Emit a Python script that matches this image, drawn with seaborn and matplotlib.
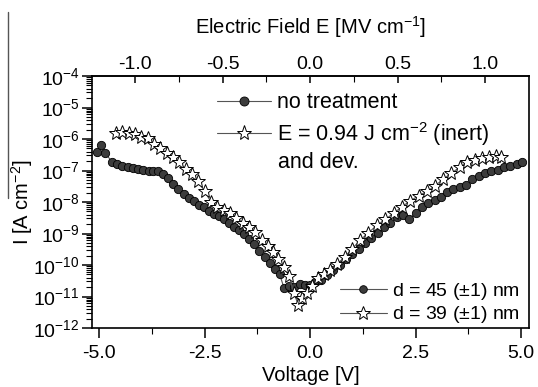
import matplotlib
matplotlib.use('Agg')
import matplotlib.pyplot as plt
import matplotlib.ticker as mticker
from matplotlib.lines import Line2D
import pandas as pd
import seaborn as sns

# no treatment, d = 45 nm  (voltage [V], current density [A cm^-2])
v_circ = [-5.05, -4.95, -4.85, -4.70, -4.58, -4.45, -4.32, -4.20, -4.08, -3.95,
          -3.83, -3.72, -3.60, -3.48, -3.36, -3.24, -3.12, -3.00, -2.88, -2.76,
          -2.64, -2.52, -2.40, -2.28, -2.16, -2.04, -1.92, -1.80, -1.68, -1.56,
          -1.44, -1.32, -1.20, -1.08, -0.96, -0.84, -0.72, -0.62, -0.50, -0.37,
          -0.25, -0.13, 0.00, 0.12, 0.25, 0.40, 0.55, 0.70, 0.85, 1.00,
          1.15, 1.30, 1.45, 1.60, 1.75, 1.90, 2.05, 2.20, 2.35, 2.50,
          2.65, 2.80, 2.95, 3.10, 3.25, 3.40, 3.55, 3.70, 3.85, 4.00,
          4.15, 4.30, 4.45, 4.60, 4.75, 4.90, 5.02]
i_circ = [3.9e-7, 6.5e-7, 3.5e-7, 1.9e-7, 1.6e-7, 1.4e-7, 1.3e-7, 1.2e-7, 1.15e-7, 1.07e-7,
          1.0e-7, 9.5e-8, 9.8e-8, 8.0e-8, 5.6e-8, 3.8e-8, 2.6e-8, 1.8e-8, 1.3e-8, 1.05e-8,
          8.3e-9, 7.0e-9, 5.0e-9, 4.2e-9, 3.5e-9, 2.8e-9, 2.2e-9, 1.66e-9, 1.26e-9, 9.5e-10,
          6.6e-10, 4.5e-10, 2.7e-10, 1.8e-10, 1.15e-10, 7.6e-11, 5.0e-11, 1.9e-11, 2.2e-11, 2.0e-11,
          2.5e-11, 2.3e-11, 2.3e-11, 2.8e-11, 3.3e-11, 4.7e-11, 6.9e-11, 1.0e-10, 1.5e-10, 2.2e-10,
          3.2e-10, 5.0e-10, 7.1e-10, 1.05e-9, 1.6e-9, 2.2e-9, 3.3e-9, 4.0e-9, 2.8e-9, 4.5e-9,
          7.1e-9, 9.5e-9, 1.2e-8, 1.4e-8, 2.1e-8, 2.5e-8, 3.0e-8, 3.5e-8, 5.2e-8, 6.6e-8,
          8.3e-8, 9.3e-8, 1.07e-7, 1.26e-7, 1.4e-7, 1.66e-7, 1.9e-7]

# E = 0.94 J cm^-2 (inert) and dev., d = 39 nm
v_star = [-4.60, -4.45, -4.30, -4.15, -4.00, -3.85, -3.70, -3.55, -3.40, -3.25,
          -3.10, -2.95, -2.80, -2.65, -2.50, -2.35, -2.20, -2.05, -1.90, -1.75,
          -1.60, -1.45, -1.30, -1.15, -1.00, -0.88, -0.75, -0.62, -0.50, -0.38,
          -0.28, -0.18, -0.08, 0.05, 0.18, 0.32, 0.48, 0.65, 0.82, 1.00,
          1.18, 1.38, 1.58, 1.78, 1.98, 2.18, 2.38, 2.58, 2.78, 2.95,
          3.15, 3.35, 3.55, 3.72, 3.90, 4.08, 4.25, 4.40, 4.52]
i_star = [1.55e-6, 1.66e-6, 1.6e-6, 1.4e-6, 1.2e-6, 1.05e-6, 7.1e-7, 5.0e-7, 3.5e-7, 2.6e-7,
          1.8e-7, 1.1e-7, 7.6e-8, 4.5e-8, 2.2e-8, 1.0e-8, 7.1e-9, 5.6e-9, 4.5e-9, 3.2e-9,
          2.2e-9, 1.6e-9, 1.1e-9, 6.3e-10, 4.0e-10, 2.5e-10, 1.5e-10, 8.9e-11, 4.5e-11, 1.26e-11,
          5.4e-12, 8.9e-12, 1.26e-11, 2.2e-11, 3.8e-11, 5.0e-11, 7.1e-11, 1.1e-10, 1.8e-10, 3.3e-10,
          6.0e-10, 1.05e-9, 1.8e-9, 2.8e-9, 4.4e-9, 7.1e-9, 1.1e-8, 1.6e-8, 2.2e-8, 3.2e-8,
          5.2e-8, 8.3e-8, 1.26e-7, 1.8e-7, 2.2e-7, 2.5e-7, 2.7e-7, 2.8e-7, 2.6e-7]

legend_top = ['no treatment', 'E = 0.94 J cm$^{-2}$ (inert)']
legend_bottom = ['d = 45 ($\\pm$1) nm', 'd = 39 ($\\pm$1) nm']

sns.set_theme(style='ticks')
plt.rcParams['font.family'] = ['Liberation Sans', 'DejaVu Sans']
plt.rcParams['mathtext.fontset'] = 'custom'
plt.rcParams['mathtext.rm'] = 'Liberation Sans'
plt.rcParams['mathtext.it'] = 'Liberation Sans:italic'
plt.rcParams['mathtext.default'] = 'regular'
plt.rcParams['axes.unicode_minus'] = False
plt.rcParams['text.color'] = 'black'
plt.rcParams['axes.labelcolor'] = 'black'
plt.rcParams['xtick.color'] = 'black'
plt.rcParams['ytick.color'] = 'black'

df_c = pd.DataFrame({'V': v_circ, 'I': i_circ})
df_s = pd.DataFrame({'V': v_star, 'I': i_star})

fig = plt.figure(figsize=(5.38, 3.87), dpi=100)
ax = fig.add_axes([92/538, 1-328/387, 437/538, 252/387])

circ_style = dict(marker='o', markersize=6, markerfacecolor='#3c3c3c',
                  markeredgecolor='black', markeredgewidth=0.6,
                  color='#555555', lw=0.8)
star_style = dict(marker='*', markersize=10, markerfacecolor='white',
                  markeredgecolor='black', markeredgewidth=0.7,
                  color='#555555', lw=0.8)
sns.lineplot(data=df_c, x='V', y='I', ax=ax, **circ_style)
sns.lineplot(data=df_s, x='V', y='I', ax=ax, **star_style)

ax.set_yscale('log')
ax.set_ylim(1e-12, 1e-4)
ax.set_xlim(-5.17, 5.19)
ax.xaxis.set_major_locator(mticker.MultipleLocator(2.5))
ax.xaxis.set_minor_locator(mticker.MultipleLocator(1.25))
ax.xaxis.set_major_formatter(mticker.FormatStrFormatter('%.1f'))
ax.yaxis.set_major_locator(mticker.LogLocator(base=10, numticks=20))
ax.yaxis.set_minor_locator(mticker.LogLocator(base=10, subs=range(2, 10), numticks=20))
ax.yaxis.set_minor_formatter(mticker.NullFormatter())

ax.tick_params(axis='both', which='major', direction='out', length=7, width=1.1,
               labelsize=14, pad=2)
ax.tick_params(axis='x', which='major', pad=5)
ax.tick_params(axis='both', which='minor', direction='out', length=4, width=0.8)
ax.tick_params(top=False, right=False, which='both')
for s in ax.spines.values():
    s.set_visible(True)
    s.set_linewidth(1.2)
    s.set_color('black')

ax.set_xlabel('Voltage [V]', fontsize=14.5, labelpad=3)
ax.set_ylabel('I [A cm$^{-2}$]', fontsize=14.5)
ax.yaxis.set_label_coords(-0.13, 0.5)

# top axis: electric field for d ~ 41.5 nm
secax = ax.secondary_xaxis('top', functions=(lambda v: v / 4.15, lambda e: e * 4.15))
secax.xaxis.set_major_locator(mticker.FixedLocator([-1.0, -0.5, 0.0, 0.5, 1.0]))
secax.xaxis.set_minor_locator(mticker.FixedLocator([-1.25, -0.75, -0.25, 0.25, 0.75]))
secax.xaxis.set_major_formatter(mticker.FormatStrFormatter('%.1f'))
secax.tick_params(which='major', direction='in', length=5, width=1.1, labelsize=14, pad=2)
secax.tick_params(which='minor', direction='in', length=4, width=0.8)
secax.set_xlabel('Electric Field E [MV cm$^{-1}$]', fontsize=14.5, labelpad=16)

h_c = Line2D([], [], **dict(circ_style, markersize=6.5))
h_s = Line2D([], [], **dict(star_style, markersize=11))
leg1 = ax.legend([h_c, h_s], legend_top, loc='upper left', bbox_to_anchor=(0.286, 0.935),
                 frameon=False, fontsize=15.5, handlelength=2.5, handletextpad=0.3,
                 borderpad=0, borderaxespad=0, labelspacing=0.3)
ax.add_artist(leg1)
ax.text(0.426, 0.655, 'and dev.', transform=ax.transAxes, fontsize=15.5,
        ha='left', va='center')

h_c2 = Line2D([], [], **dict(circ_style, markersize=5.5))
h_s2 = Line2D([], [], **dict(star_style, markersize=10))
ax.legend([h_c2, h_s2], legend_bottom, loc='lower left', bbox_to_anchor=(0.5675, 0.01),
          frameon=False, fontsize=14, handlelength=2.4, handletextpad=0.3,
          borderpad=0, borderaxespad=0, labelspacing=0.15)

fig.add_artist(Line2D([8/538, 8/538], [1-12/387, 1-198/387], transform=fig.transFigure,
                      color='#555555', lw=1))

fig.savefig('out.png', dpi=100)
